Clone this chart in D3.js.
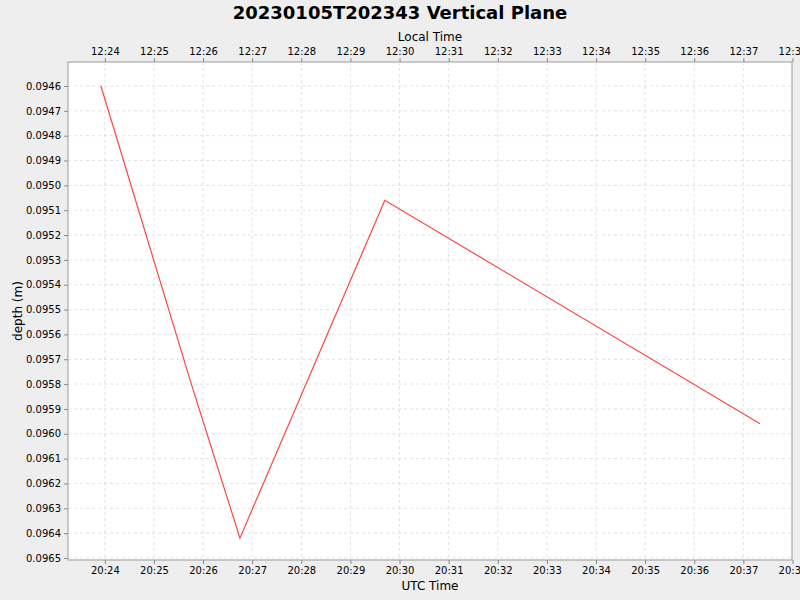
<!DOCTYPE html><html><head><script src="https://cdn.jsdelivr.net/npm/d3@7"></script>
<style>body{margin:0;background:#eeeeee}text{font-family:"DejaVu Sans",sans-serif}</style></head><body>
<svg id="c" width="800" height="600"></svg>
<script>
const utcMinutes=[23.92,25.73,26.75,29.70,37.34];
const depths=[0.0946,0.09578,0.09642,0.09506,0.09596];
const yTicks=d3.range(0,20).map(i=>+(0.0946+i*0.0001).toFixed(4));
const xTickMin=d3.range(24,39);
const svg=d3.select("#c");
const L=68,R=792,T=62,B=560;
const x=d3.scaleLinear().domain([23.25,37.99]).range([L,R]);
const y=d3.scaleLinear().domain([0.0946,0.0965]).range([86,558]);
svg.append("rect").attr("x",L).attr("y",T).attr("width",R-L).attr("height",B-T).attr("fill","#fff").attr("stroke","#999");
const g=svg.append("g");
xTickMin.filter(m=>x(m)<R).forEach(m=>g.append("line").attr("x1",x(m)).attr("x2",x(m)).attr("y1",T).attr("y2",B).attr("stroke","#e2e2e2").attr("stroke-dasharray","3,3"));
yTicks.forEach(v=>g.append("line").attr("x1",L).attr("x2",R).attr("y1",y(v)).attr("y2",y(v)).attr("stroke","#e2e2e2").attr("stroke-dasharray","3,3"));
const fmt=(h,m)=>h+":"+String(m).padStart(2,"0");
svg.append("g").attr("transform",`translate(0,${B})`).call(d3.axisBottom(x).tickValues(xTickMin).tickFormat(m=>fmt(20,m)).tickSize(4)).call(a=>a.select(".domain").remove()).selectAll("text").attr("font-size",10).attr("font-family","DejaVu Sans");
svg.append("g").attr("transform",`translate(0,${T})`).call(d3.axisTop(x).tickValues(xTickMin).tickFormat(m=>fmt(12,m)).tickSize(4)).call(a=>a.select(".domain").remove()).selectAll("text").attr("font-size",10).attr("font-family","DejaVu Sans");
svg.append("g").attr("transform",`translate(${L},0)`).call(d3.axisLeft(y).tickValues(yTicks).tickFormat(d3.format(".4f")).tickSize(4)).call(a=>a.select(".domain").remove()).selectAll("text").attr("font-size",10).attr("font-family","DejaVu Sans");
svg.selectAll(".tick line").attr("stroke","#888");
svg.append("path").datum(utcMinutes.map((m,i)=>[m,depths[i]])).attr("d",d3.line().x(d=>x(d[0])).y(d=>y(d[1]))).attr("fill","none").attr("stroke","#ff4444").attr("stroke-width",1.2);
svg.append("text").attr("x",400).attr("y",19).attr("text-anchor","middle").attr("font-size",18).attr("font-weight","bold").text("20230105T202343 Vertical Plane");
svg.append("text").attr("x",430).attr("y",41).attr("text-anchor","middle").attr("font-size",12).text("Local Time");
svg.append("text").attr("x",430).attr("y",590).attr("text-anchor","middle").attr("font-size",12).text("UTC Time");
svg.append("text").attr("transform","translate(22,311) rotate(-90)").attr("text-anchor","middle").attr("font-size",12).text("depth (m)");
</script></body></html>
